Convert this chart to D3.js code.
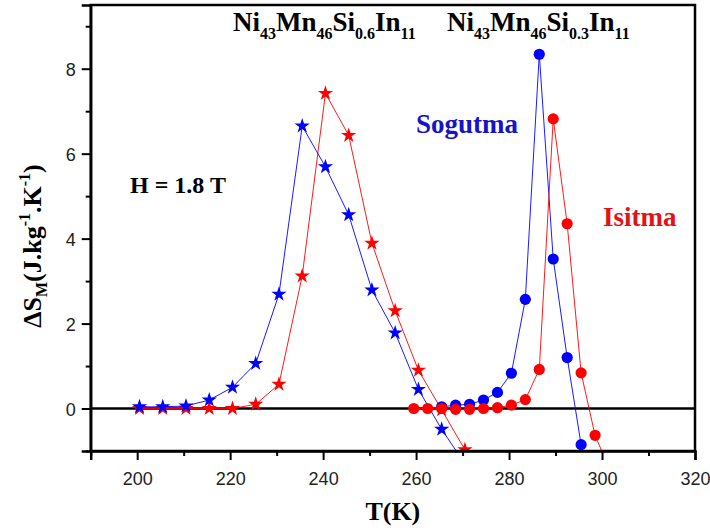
<!DOCTYPE html>
<html>
<head>
<meta charset="utf-8">
<script src="https://cdn.jsdelivr.net/npm/d3@7"></script>
<style>
  html, body { margin: 0; padding: 0; background: #fff; }
  svg { display: block; }
</style>
</head>
<body>
<svg id="chart" width="710" height="530"></svg>
<script>
// Ni43Mn46Si0.6In11 (stars) — temperatures and entropy change
const starTemps = [200.5, 205.5, 210.5, 215.5, 220.5, 225.5, 230.5, 235.5, 240.5, 245.5, 250.5, 255.5, 260.5, 265.5, 270.5];
const starCooling = [0.04, 0.04, 0.06, 0.2, 0.5, 1.06, 2.69, 6.65, 5.69, 4.56, 2.79, 1.78, 0.45, -0.49, -1.3];
const starHeating = [0.0, 0.0, 0.0, 0.0, 0.0, 0.1, 0.57, 3.12, 7.42, 6.43, 3.89, 2.3, 0.9, -0.03, -0.97];

// Ni43Mn46Si0.3In11 (circles)
const circCoolTemps = [265.5, 268.5, 271.5, 274.5, 277.5, 280.5, 283.5, 286.5, 289.5, 292.5, 295.5];
const circCooling = [0.04, 0.08, 0.1, 0.2, 0.38, 0.83, 2.57, 8.34, 3.52, 1.2, -0.85];
const circHeatTemps = [259.5, 262.5, 265.5, 268.5, 271.5, 274.5, 277.5, 280.5, 283.5, 286.5, 289.5, 292.5, 295.5, 298.5, 301.5];
const circHeating = [0.0, 0.0, 0.0, -0.02, -0.02, 0.0, 0.02, 0.08, 0.21, 0.92, 6.82, 4.35, 0.84, -0.63, -1.4];

const xMajorTicks = [200, 220, 240, 260, 280, 300, 320];
const xMinorTicks = [190, 210, 230, 250, 270, 290, 310];
const yMajorTicks = [0, 2, 4, 6, 8];
const yMinorTicks = [-1, 1, 3, 5, 7, 9];

const BLUE = "#0000ff";
const RED = "#ff0000";

const svg = d3.select("#chart");
const plotLeft = 90.7, plotRight = 695, plotTop = 5, plotBottom = 451;

const x = d3.scaleLinear().domain([190, 320]).range([plotLeft, plotRight]);
const y = d3.scaleLinear().domain([-1, 9.5]).range([plotBottom, plotTop]);

svg.append("defs").append("clipPath").attr("id", "plotClip")
  .append("rect").attr("x", plotLeft).attr("y", plotTop)
  .attr("width", plotRight - plotLeft).attr("height", plotBottom - plotTop);

// zero reference line
svg.append("line")
  .attr("x1", plotLeft).attr("x2", plotRight)
  .attr("y1", y(0)).attr("y2", y(0))
  .attr("stroke", "#000").attr("stroke-width", 2.5);

const plot = svg.append("g").attr("clip-path", "url(#plotClip)");
const line = d3.line().x(d => x(d[0])).y(d => y(d[1]));

function series(temps, vals, color, shape) {
  const pts = temps.map((t, i) => [t, vals[i]]);
  plot.append("path").datum(pts)
    .attr("d", line).attr("fill", "none")
    .attr("stroke", color).attr("stroke-width", 0.9);
  const g = plot.append("g");
  if (shape === "star") {
    const sym = d3.symbol().type(d3.symbolStar).size(72);
    g.selectAll("path").data(pts).join("path")
      .attr("d", sym)
      .attr("transform", d => `translate(${x(d[0])},${y(d[1])})`)
      .attr("fill", color);
  } else {
    g.selectAll("circle").data(pts).join("circle")
      .attr("cx", d => x(d[0])).attr("cy", d => y(d[1]))
      .attr("r", 5.6).attr("fill", color);
  }
}

series(starTemps, starHeating, RED, "star");
series(starTemps, starCooling, BLUE, "star");
series(circCoolTemps, circCooling, BLUE, "circle");
series(circHeatTemps, circHeating, RED, "circle");

// axes
const tickFont = "'Liberation Sans', Arial, sans-serif";
const xAxis = svg.append("g").attr("transform", `translate(0,${plotBottom})`)
  .call(d3.axisBottom(x).tickValues(xMajorTicks).tickSize(9).tickPadding(8).tickFormat(d3.format("d")));
svg.append("g").attr("transform", `translate(0,${plotBottom})`)
  .call(d3.axisBottom(x).tickValues(xMinorTicks).tickSize(5).tickFormat(""))
  .call(g => g.select(".domain").remove());
const yAxis = svg.append("g").attr("transform", `translate(${plotLeft},0)`)
  .call(d3.axisLeft(y).tickValues(yMajorTicks).tickSize(9).tickPadding(6).tickFormat(d3.format("d")));
svg.append("g").attr("transform", `translate(${plotLeft},0)`)
  .call(d3.axisLeft(y).tickValues(yMinorTicks).tickSize(5).tickFormat(""))
  .call(g => g.select(".domain").remove());

svg.selectAll(".domain").attr("stroke-width", 2.5);
svg.selectAll(".tick line").attr("stroke-width", 2);
svg.selectAll(".tick text")
  .attr("font-family", tickFont).attr("font-size", 18).attr("fill", "#222");
xAxis.selectAll(".tick text").attr("dy", "0.95em");
yAxis.selectAll(".tick text").attr("dy", "0.36em");

// frame
svg.append("rect")
  .attr("x", plotLeft).attr("y", plotTop)
  .attr("width", plotRight - plotLeft).attr("height", plotBottom - plotTop)
  .attr("fill", "none").attr("stroke", "#000").attr("stroke-width", 2.5);

const serif = "'Liberation Serif', 'Times New Roman', serif";

// axis titles
svg.append("text")
  .attr("x", (plotLeft + plotRight) / 2).attr("y", 520)
  .attr("text-anchor", "middle")
  .attr("font-family", serif).attr("font-weight", "bold").attr("font-size", 26)
  .text("T(K)");

const yTitle = svg.append("text")
  .attr("transform", "translate(41,246) rotate(-90)")
  .attr("text-anchor", "middle")
  .attr("font-family", serif).attr("font-weight", "bold").attr("font-size", 26);
yTitle.append("tspan").text("ΔS");
yTitle.append("tspan").attr("font-size", 16).attr("dy", 6).text("M");
yTitle.append("tspan").attr("dy", -6).text("(J.kg");
yTitle.append("tspan").attr("font-size", 16).attr("dy", -11).text("-1");
yTitle.append("tspan").attr("dy", 11).text(".K");
yTitle.append("tspan").attr("font-size", 16).attr("dy", -11).text("-1");
yTitle.append("tspan").attr("dy", 11).text(")");

// compound labels
function formula(xPos, parts) {
  const t = svg.append("text")
    .attr("x", xPos).attr("y", 31)
    .attr("font-family", serif).attr("font-weight", "bold").attr("font-size", 27);
  parts.forEach((p, i) => {
    t.append("tspan").text(p[0]).attr("dy", i === 0 ? 0 : -8);
    t.append("tspan").text(p[1]).attr("font-size", 16).attr("dy", 8);
  });
}
formula(233, [["Ni", "43"], ["Mn", "46"], ["Si", "0.6"], ["In", "11"]]);
formula(447, [["Ni", "43"], ["Mn", "46"], ["Si", "0.3"], ["In", "11"]]);

// annotations
svg.append("text").attr("x", 130).attr("y", 193)
  .attr("font-family", serif).attr("font-weight", "bold").attr("font-size", 24)
  .attr("fill", "#000").text("H = 1.8 T");
svg.append("text").attr("x", 416).attr("y", 133)
  .attr("font-family", serif).attr("font-weight", "bold").attr("font-size", 27)
  .attr("fill", "#1414c8").text("Sogutma");
svg.append("text").attr("x", 603).attr("y", 226)
  .attr("font-family", serif).attr("font-weight", "bold").attr("font-size", 27)
  .attr("fill", "#e01414").text("Isitma");
</script>
</body>
</html>
